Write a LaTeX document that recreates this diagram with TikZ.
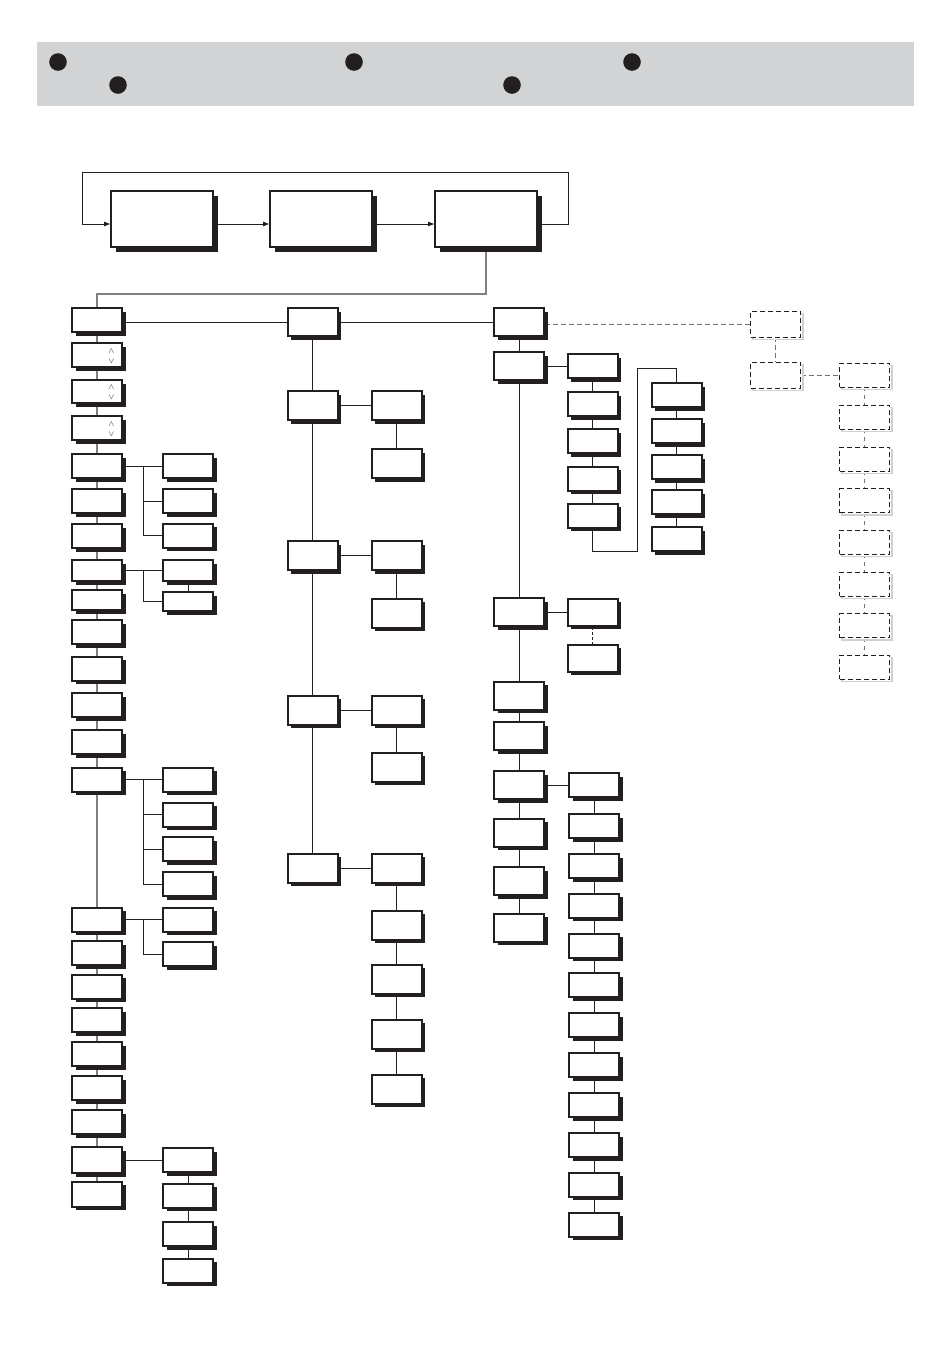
\documentclass[tikz,border=0pt]{standalone}
\usetikzlibrary{shadows,backgrounds,arrows.meta}
\definecolor{ink}{HTML}{231F20}
\definecolor{band}{HTML}{D1D3D4}
\begin{document}
\begin{tikzpicture}[x=1pt,y=-1pt,
  bx/.style={draw=ink,line width=2pt,fill=white,inner sep=0pt,minimum width=50pt,minimum height=24pt,
    drop shadow={shadow xshift=3.5pt,shadow yshift=-3.5pt,fill=ink,opacity=1}},
  bigbx/.style={draw=ink,line width=2pt,fill=white,inner sep=0pt,minimum width=102pt,minimum height=56pt,
    drop shadow={shadow xshift=5pt,shadow yshift=-5pt,fill=ink,opacity=1}},
  dbx/.style={draw=ink,line width=0.9pt,dash pattern=on 5pt off 3pt,fill=white,inner sep=0pt,
    minimum width=50pt,minimum height=26pt,
    general shadow={shadow xshift=2.5pt,shadow yshift=-2.5pt,solid,draw=black!18,line width=1.3pt,fill=white}},
  conn/.style={draw=ink,line width=0.8pt},
  spine/.style={draw=black!50,line width=1.1pt},
  dconn/.style={draw=black!55,line width=0.9pt,dash pattern=on 5pt off 3pt},
  arr/.style={conn,-{Triangle[length=6pt,width=4.5pt]}},
  chev/.style={inner sep=0pt,text=ink,font=\fontsize{8.5}{8.5}\selectfont}
]
\useasboundingbox (0,0) rectangle (950,1353);
% header band
\fill[band] (37,42) rectangle (914,106);
\fill[ink] (58,62) circle (8.8pt);
\fill[ink] (118,85) circle (8.8pt);
\fill[ink] (354,62) circle (8.8pt);
\fill[ink] (512,85) circle (8.8pt);
\fill[ink] (632,62) circle (8.8pt);

% top boxes
\node[bigbx] (B1) at (162,219) {};
\node[bigbx] (B2) at (321,219) {};
\node[bigbx] (B3) at (486,219) {};

% left column
\node[bx] (L1) at (97,320) {};
\node[bx] (L2) at (97,355) {};
\node[bx,minimum height=23pt] (L3) at (97,391.5) {};
\node[bx] (L4) at (97,428) {};
\node[bx] (L5) at (97,466) {};
\node[bx] (L6) at (97,501) {};
\node[bx] (L7) at (97,536) {};
\node[bx,minimum height=21pt] (L8) at (97,570.5) {};
\node[bx,minimum height=20pt] (L9) at (97,600) {};
\node[bx] (L10) at (97,632) {};
\node[bx] (L11) at (97,668.5) {};
\node[bx] (L12) at (97,705) {};
\node[bx] (L13) at (97,742) {};
\node[bx] (L14) at (97,779.5) {};
\node[bx] (L15) at (97,919.5) {};
\node[bx] (L16) at (97,953) {};
\node[bx] (L17) at (97,986.5) {};
\node[bx] (L18) at (97,1020) {};
\node[bx] (L19) at (97,1054) {};
\node[bx] (L20) at (97,1088) {};
\node[bx] (L21) at (97,1122) {};
\node[bx,minimum height=26pt] (L22) at (97,1160) {};
\node[bx,minimum height=25pt] (L23) at (97,1194) {};

\node[chev] (L2u) at (111.5,351) {$\wedge$};
\node[chev] (L2d) at (111.5,361) {$\vee$};
\node[chev] (L3u) at (111.5,387.5) {$\wedge$};
\node[chev] (L3d) at (111.5,397.5) {$\vee$};
\node[chev] (L4u) at (111.5,424) {$\wedge$};
\node[chev] (L4d) at (111.5,434) {$\vee$};

% left sub column
\node[bx] (S1) at (188,466) {};
\node[bx] (S2) at (188,501) {};
\node[bx] (S3) at (188,535.5) {};
\node[bx,minimum height=21pt] (S4) at (188,570.5) {};
\node[bx,minimum height=19pt] (S5) at (188,601.5) {};
\node[bx] (S6) at (188,779.5) {};
\node[bx] (S7) at (188,814.5) {};
\node[bx] (S8) at (188,849) {};
\node[bx] (S9) at (188,884) {};
\node[bx] (S10) at (188,919.5) {};
\node[bx] (S11) at (188,954) {};
\node[bx] (S12) at (188,1160) {};
\node[bx] (S13) at (188,1195.5) {};
\node[bx] (S14) at (188,1234) {};
\node[bx] (S15) at (188,1270.5) {};

% middle column
\node[bx,minimum height=28pt] (M1) at (312.5,322) {};
\node[bx,minimum height=29pt] (M2) at (312.5,405.5) {};
\node[bx,minimum height=29pt] (M3) at (312.5,555.5) {};
\node[bx,minimum height=29pt] (M4) at (312.5,710) {};
\node[bx,minimum height=29pt] (M5) at (312.5,868) {};
\node[bx,minimum height=29pt] (N2) at (396.5,405.5) {};
\node[bx,minimum height=29pt] (N3) at (396.5,463.5) {};
\node[bx,minimum height=29pt] (N4) at (396.5,555.5) {};
\node[bx,minimum height=29pt] (N5) at (396.5,613) {};
\node[bx,minimum height=29pt] (N6) at (396.5,710) {};
\node[bx,minimum height=29pt] (N7) at (396.5,767) {};
\node[bx,minimum height=29pt] (N8) at (396.5,868) {};
\node[bx,minimum height=29pt] (N9) at (396.5,925) {};
\node[bx,minimum height=29pt] (N10) at (396.5,979) {};
\node[bx,minimum height=29pt] (N11) at (396.5,1034) {};
\node[bx,minimum height=29pt] (N12) at (396.5,1089) {};

% right column
\node[bx,minimum height=28pt] (R1) at (519,322) {};
\node[bx,minimum height=28pt] (R2) at (519,366) {};
\node[bx,minimum height=28pt] (R3) at (519,612) {};
\node[bx,minimum height=28pt] (R4) at (519,695.5) {};
\node[bx,minimum height=28pt] (R5) at (519,736) {};
\node[bx,minimum height=28pt] (R6) at (519,785) {};
\node[bx,minimum height=28pt] (R7) at (519,832.5) {};
\node[bx,minimum height=28pt] (R8) at (519,881) {};
\node[bx,minimum height=28pt] (R9) at (519,927.5) {};

\node[bx] (P1) at (592.5,366) {};
\node[bx] (P2) at (592.5,404) {};
\node[bx] (P3) at (592.5,441) {};
\node[bx] (P4) at (592.5,478.5) {};
\node[bx] (P5) at (592.5,515.5) {};
\node[bx] (Q1) at (676.5,395) {};
\node[bx] (Q2) at (676.5,431) {};
\node[bx] (Q3) at (676.5,467) {};
\node[bx] (Q4) at (676.5,502) {};
\node[bx] (Q5) at (676.5,539) {};

\node[bx,minimum height=27pt] (T1) at (592.5,612) {};
\node[bx,minimum height=27pt] (T2) at (592.5,658) {};

\node[bx] (U1) at (594,785) {};
\node[bx] (U2) at (594,826) {};
\node[bx] (U3) at (594,866) {};
\node[bx] (U4) at (594,905.5) {};
\node[bx] (U5) at (594,945.5) {};
\node[bx] (U6) at (594,985) {};
\node[bx] (U7) at (594,1025) {};
\node[bx] (U8) at (594,1065) {};
\node[bx] (U9) at (594,1105) {};
\node[bx] (U10) at (594,1145) {};
\node[bx] (U11) at (594,1184.5) {};
\node[bx] (U12) at (594,1224.5) {};

% dashed boxes
\node[dbx] (D1) at (775.5,324) {};
\node[dbx] (D2) at (775.5,375) {};
\node[dbx,minimum height=24pt] (E1) at (864.5,375) {};
\node[dbx,minimum height=24pt] (E2) at (864.5,417) {};
\node[dbx,minimum height=24pt] (E3) at (864.5,459) {};
\node[dbx,minimum height=24pt] (E4) at (864.5,500.5) {};
\node[dbx,minimum height=24pt] (E5) at (864.5,542) {};
\node[dbx,minimum height=24pt] (E6) at (864.5,584) {};
\node[dbx,minimum height=24pt] (E7) at (864.5,625.5) {};
\node[dbx,minimum height=24pt] (E8) at (864.5,667) {};

% helper coordinates
\coordinate (lr) at (568,172);
\coordinate (ll) at (82,172);
\coordinate (gk) at (97,294);
\coordinate (k5) at (143,466);
\coordinate (k8) at (143,570.5);
\coordinate (k14) at (143,779.5);
\coordinate (k15) at (143,919.5);
\coordinate (pa) at (637,551);
\coordinate (pb) at (676.5,368);

% arrows on top row
\draw[arr] ([yshift=-5pt]B1.east) -- ([yshift=-5pt]B2.west);
\draw[arr] ([yshift=-5pt]B2.east) -- ([yshift=-5pt]B3.west);
\draw[arr] ([yshift=-5pt]B3.east) -| (lr) -| (ll) |- ([yshift=-5pt]B1.west);

\begin{pgfonlayer}{background}
  \draw[spine] (B3.south) |- (gk) -- (L1.north);
  \draw[spine] (L1) -- (L2) -- (L3) -- (L4) -- (L5) -- (L6) -- (L7) -- (L8) -- (L9) -- (L10)
     -- (L11) -- (L12) -- (L13) -- (L14) -- (L15) -- (L16) -- (L17) -- (L18) -- (L19) -- (L20)
     -- (L21) -- (L22) -- (L23);
  \draw[conn] (M1.west -| L1.east) -- (M1);
  \draw[conn] (M1) -- (R1);
  % left branches
  \draw[conn] (L5) -- (S1);
  \draw[conn] (k5) |- (S2);
  \draw[conn] (k5) |- (S3);
  \draw[conn] (L8) -- (S4);
  \draw[conn] (k8) |- (S5);
  \draw[conn] (S4) -- (S5);
  \draw[conn] (L14) -- (S6);
  \draw[conn] (k14) |- (S7);
  \draw[conn] (k14) |- (S8);
  \draw[conn] (k14) |- (S9);
  \draw[conn] (L15) -- (S10);
  \draw[conn] (k15) |- (S11);
  \draw[conn] (L22) -- (S12);
  \draw[conn] (S12) -- (S13) -- (S14) -- (S15);
  % middle
  \draw[conn] (M1) -- (M2) -- (M3) -- (M4) -- (M5);
  \draw[conn] (M2) -- (N2) -- (N3);
  \draw[conn] (M3) -- (N4) -- (N5);
  \draw[conn] (M4) -- (N6) -- (N7);
  \draw[conn] (M5) -- (N8) -- (N9) -- (N10) -- (N11) -- (N12);
  % right
  \draw[conn] (R1) -- (R2) -- (R3) -- (R4) -- (R5) -- (R6) -- (R7) -- (R8) -- (R9);
  \draw[conn] (R2) -- (P1) -- (P2) -- (P3) -- (P4) -- (P5);
  \draw[conn] (P5) |- (pa) |- (pb) -- (Q1);
  \draw[conn] (Q1) -- (Q2) -- (Q3) -- (Q4) -- (Q5);
  \draw[conn] (R3) -- (T1);
  \draw[conn,dash pattern=on 3pt off 2pt] (T1) -- (T2);
  \draw[conn] (R6) -- (U1) -- (U2) -- (U3) -- (U4) -- (U5) -- (U6) -- (U7) -- (U8) -- (U9) -- (U10) -- (U11) -- (U12);
  % dashed part
  \draw[dconn] (D1.west -| R1.east) -- (D1);
  \draw[dconn] (D1) -- (D2);
  \draw[dconn] (D2) -- (E1);
  \draw[dconn,dash pattern=on 4pt off 4pt] (E1) -- (E2) -- (E3) -- (E4) -- (E5) -- (E6) -- (E7) -- (E8);
\end{pgfonlayer}
\end{tikzpicture}
\end{document}
